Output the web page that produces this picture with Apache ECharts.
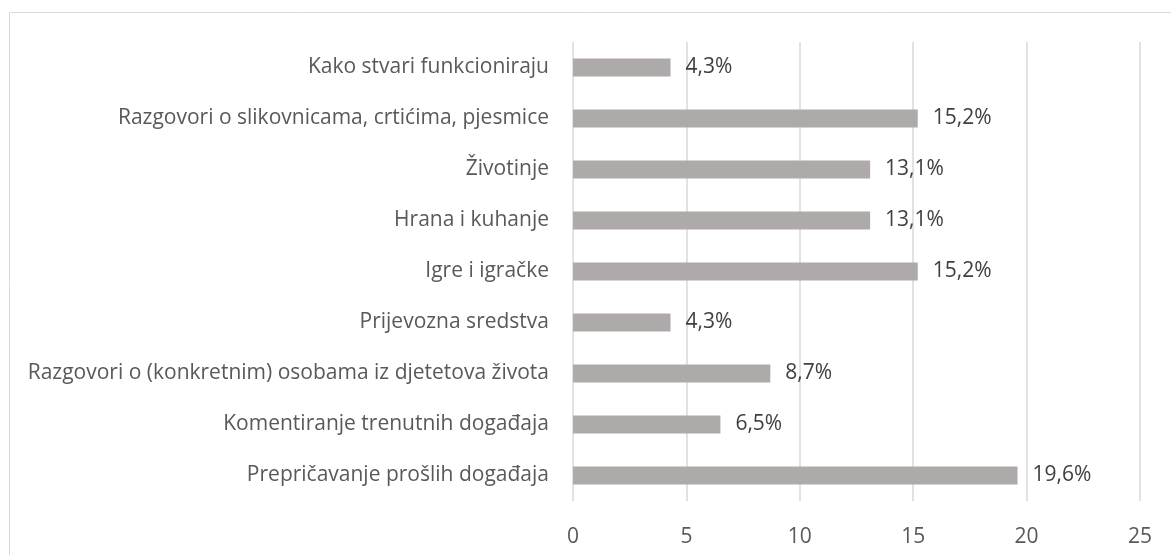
<!DOCTYPE html>
<html>
<head>
<meta charset="utf-8">
<script src="https://cdn.jsdelivr.net/npm/echarts@6/dist/echarts.min.js"></script>
<style>
html,body{margin:0;padding:0;background:#fff;}
#chart{width:1171px;height:555px;}
</style>
</head>
<body>
<div id="chart"></div>
<script>
// categories listed bottom to top (ECharts category y-axis starts at bottom)
const categories = [
  "Prepričavanje prošlih događaja",
  "Komentiranje trenutnih događaja",
  "Razgovori o (konkretnim) osobama iz djetetova života",
  "Prijevozna sredstva",
  "Igre i igračke",
  "Hrana i kuhanje",
  "Životinje",
  "Razgovori o slikovnicama, crtićima, pjesmice",
  "Kako stvari funkcioniraju"
];
const values = [19.6, 6.5, 8.7, 4.3, 15.2, 13.1, 13.1, 15.2, 4.3];
const xTicks = [0, 5, 10, 15, 20, 25];

const FONT = '"Open Sans", sans-serif';
const chart = echarts.init(document.getElementById('chart'));
chart.setOption({
  animation: false,
  backgroundColor: '#ffffff',
  graphic: [{
    type: 'rect',
    shape: { x: 9.5, y: 12.5, width: 1200, height: 600 },
    style: { fill: 'none', stroke: '#d9d9d9', lineWidth: 1 },
    silent: true
  }],
  grid: { left: 573, right: 31, top: 42, bottom: 54, containLabel: false },
  xAxis: {
    type: 'value',
    min: xTicks[0],
    max: xTicks[xTicks.length - 1],
    interval: xTicks[1] - xTicks[0],
    axisLine: { show: false },
    axisTick: { show: false },
    splitLine: { show: true, lineStyle: { color: '#d9d9d9', width: 1.5 } },
    axisLabel: { color: '#595959', fontFamily: FONT, fontSize: 21, margin: 26 }
  },
  yAxis: {
    type: 'category',
    data: categories,
    axisLine: { show: false },
    axisTick: { show: false },
    axisLabel: { color: '#595959', fontFamily: FONT, fontSize: 21, margin: 24 }
  },
  series: [{
    type: 'bar',
    data: values,
    barWidth: 18,
    itemStyle: { color: '#aeaaaa' },
    label: {
      show: true,
      position: 'right',
      distance: 15,
      color: '#404040',
      fontFamily: FONT,
      fontSize: 21,
      formatter: p => String(p.value.toFixed(1)).replace('.', ',') + '%'
    }
  }]
});
</script>
</body>
</html>
